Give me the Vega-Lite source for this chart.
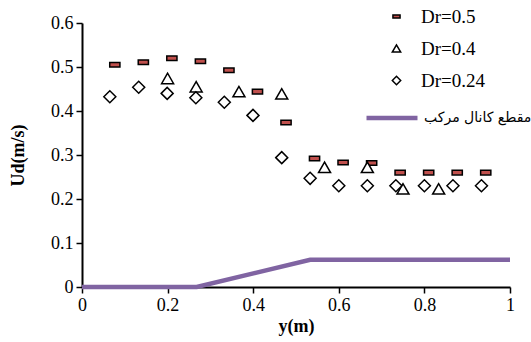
{
  "$schema": "https://vega.github.io/schema/vega-lite/v6.json",
  "width": 428,
  "height": 264,
  "autosize": "none",
  "padding": {"left": 82, "top": 23, "right": 21, "bottom": 55},
  "background": "white",
  "datasets": {
    "points": [
      {"y": 0.0767, "ud": 0.505, "dr": "Dr=0.5"},
      {"y": 0.1433, "ud": 0.511, "dr": "Dr=0.5"},
      {"y": 0.21, "ud": 0.52, "dr": "Dr=0.5"},
      {"y": 0.2767, "ud": 0.513, "dr": "Dr=0.5"},
      {"y": 0.3433, "ud": 0.4925, "dr": "Dr=0.5"},
      {"y": 0.41, "ud": 0.444, "dr": "Dr=0.5"},
      {"y": 0.4767, "ud": 0.374, "dr": "Dr=0.5"},
      {"y": 0.5433, "ud": 0.292, "dr": "Dr=0.5"},
      {"y": 0.61, "ud": 0.283, "dr": "Dr=0.5"},
      {"y": 0.6767, "ud": 0.282, "dr": "Dr=0.5"},
      {"y": 0.7433, "ud": 0.26, "dr": "Dr=0.5"},
      {"y": 0.81, "ud": 0.26, "dr": "Dr=0.5"},
      {"y": 0.8767, "ud": 0.26, "dr": "Dr=0.5"},
      {"y": 0.9433, "ud": 0.26, "dr": "Dr=0.5"},
      {"y": 0.2, "ud": 0.474, "dr": "Dr=0.4"},
      {"y": 0.2667, "ud": 0.455, "dr": "Dr=0.4"},
      {"y": 0.3667, "ud": 0.444, "dr": "Dr=0.4"},
      {"y": 0.4667, "ud": 0.439, "dr": "Dr=0.4"},
      {"y": 0.5667, "ud": 0.272, "dr": "Dr=0.4"},
      {"y": 0.6667, "ud": 0.272, "dr": "Dr=0.4"},
      {"y": 0.75, "ud": 0.223, "dr": "Dr=0.4"},
      {"y": 0.8333, "ud": 0.223, "dr": "Dr=0.4"},
      {"y": 0.065, "ud": 0.4325, "dr": "Dr=0.24"},
      {"y": 0.1325, "ud": 0.454, "dr": "Dr=0.24"},
      {"y": 0.199, "ud": 0.44, "dr": "Dr=0.24"},
      {"y": 0.266, "ud": 0.43, "dr": "Dr=0.24"},
      {"y": 0.3325, "ud": 0.42, "dr": "Dr=0.24"},
      {"y": 0.3995, "ud": 0.39, "dr": "Dr=0.24"},
      {"y": 0.4667, "ud": 0.294, "dr": "Dr=0.24"},
      {"y": 0.533, "ud": 0.247, "dr": "Dr=0.24"},
      {"y": 0.6, "ud": 0.23, "dr": "Dr=0.24"},
      {"y": 0.6667, "ud": 0.23, "dr": "Dr=0.24"},
      {"y": 0.7333, "ud": 0.23, "dr": "Dr=0.24"},
      {"y": 0.8, "ud": 0.23, "dr": "Dr=0.24"},
      {"y": 0.8667, "ud": 0.23, "dr": "Dr=0.24"},
      {"y": 0.9333, "ud": 0.23, "dr": "Dr=0.24"}
    ],
    "channel": [
      {"y": 0, "ud": 0, "name": "مقطع کانال مرکب"},
      {"y": 0.268, "ud": 0, "name": "مقطع کانال مرکب"},
      {"y": 0.533, "ud": 0.062, "name": "مقطع کانال مرکب"},
      {"y": 1, "ud": 0.062, "name": "مقطع کانال مرکب"}
    ]
  },
  "encoding": {
    "x": {
      "field": "y", "type": "quantitative",
      "scale": {"domain": [0, 1], "nice": false, "zero": false},
      "axis": {"title": "y(m)", "values": [0, 0.2, 0.4, 0.6, 0.8, 1], "format": "~g",
        "encode": {
          "labels": {"update": {"font": {"value": "Liberation Serif"}}},
          "title": {"update": {"font": {"value": "Liberation Serif"}}}
        }}
    },
    "y": {
      "field": "ud", "type": "quantitative",
      "scale": {"domain": [0, 0.6], "nice": false},
      "axis": {"title": "Ud(m/s)", "values": [0, 0.1, 0.2, 0.3, 0.4, 0.5, 0.6], "format": "~g",
        "titleX": -64, "titleBaseline": "middle",
        "encode": {
          "labels": {"update": {"font": {"value": "Liberation Serif"}}},
          "title": {"update": {"font": {"value": "Liberation Serif"}}}
        }}
    }
  },
  "layer": [
    {
      "data": {"name": "channel"},
      "mark": {"type": "line", "strokeWidth": 4.5, "clip": false},
      "encoding": {
        "stroke": {
          "field": "name", "type": "nominal",
          "scale": {"range": ["#8064A2"]},
          "legend": {
            "title": null, "orient": "none", "legendX": 282, "legendY": 67,
            "symbolType": "stroke", "symbolSize": 2600, "symbolStrokeWidth": 4.5,
            "labelOffset": 4, "labelFontSize": 14, "labelFont": "DejaVu Sans",
            "padding": 0
          }
        }
      }
    },
    {
      "data": {"name": "points"},
      "mark": {"type": "point", "filled": true, "stroke": "black", "strokeWidth": 1.5, "size": 144, "opacity": 1},
      "encoding": {
        "shape": {
          "field": "dr", "type": "nominal",
          "scale": {"domain": ["Dr=0.5", "Dr=0.4", "Dr=0.24"], "range": ["M-0.85,-0.38H0.85V0.38H-0.85Z", "triangle-up", "diamond"]},
          "legend": {
            "title": null, "orient": "none", "legendX": 305, "legendY": -16,
            "symbolSize": 70,
            "labelOffset": 15, "labelFontSize": 19, "rowPadding": 12, "padding": 0,
            "encode": {"symbols": {"update": {"stroke": {"value": "black"}, "strokeWidth": {"value": 1.8}}}}
          }
        },
        "fill": {
          "field": "dr", "type": "nominal",
          "scale": {"domain": ["Dr=0.5", "Dr=0.4", "Dr=0.24"], "range": ["#C0504D", "white", "white"]},
          "legend": {
            "title": null, "orient": "none", "legendX": 305, "legendY": -16,
            "symbolSize": 70,
            "labelOffset": 15, "labelFontSize": 19, "rowPadding": 12, "padding": 0,
            "encode": {"symbols": {"update": {"stroke": {"value": "black"}, "strokeWidth": {"value": 1.8}}}}
          }
        }
      }
    }
  ],
  "config": {
    "view": {"stroke": null},
    "font": "Liberation Serif",
    "axis": {
      "grid": false,
      "labelFont": "Liberation Serif", "titleFont": "Liberation Serif",
      "domainColor": "black", "domainWidth": 2,
      "tickColor": "black", "tickWidth": 1.5, "tickSize": 6,
      "labelFontSize": 18, "labelColor": "black", "labelPadding": 3,
      "titleFontSize": 18, "titleFontWeight": "bold", "titleColor": "black"
    },
    "axisX": {"titlePadding": 3, "labelFlush": false},
    "axisY": {"labelFlush": false},
    "legend": {"labelColor": "black", "labelFont": "Liberation Serif"}
  }
}
